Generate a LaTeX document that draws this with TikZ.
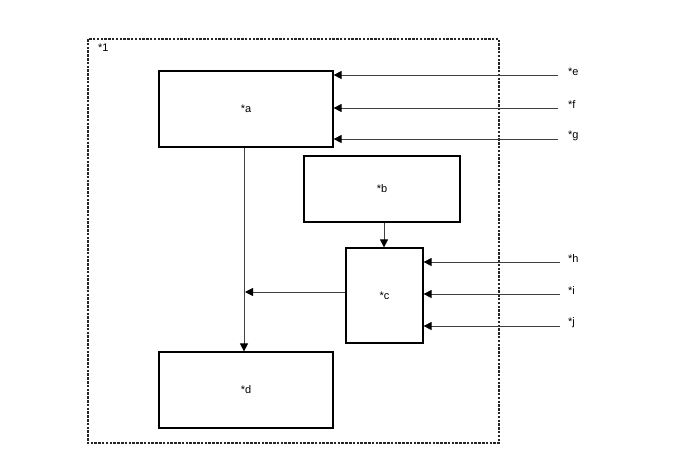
\documentclass[tikz,border=0pt]{standalone}
\usepackage{fontspec}
\setmainfont{Liberation Sans}
\usetikzlibrary{arrows.meta}
\begin{document}
\begin{tikzpicture}[x=1pt,y=-1pt,
  blk/.style={draw=black,line width=1.2pt,rectangle,inner sep=0pt,font=\fontsize{11}{13}\selectfont},
  arr/.style={draw=black!75,line width=0.8pt,-{Triangle[length=8pt,width=8pt,black]}},
  lbl/.style={font=\fontsize{11}{13}\selectfont,anchor=west,inner sep=0pt},
  frame/.style={draw=black!85,line width=1.1pt,dash pattern=on 2.5pt off 1.3pt}]
\useasboundingbox (0,0) rectangle (688,463);
\draw[frame] (88,39) rectangle (499,443);
\node[lbl] (n1) at (98,48) {*1};
\node[blk,minimum width=174pt,minimum height=76pt] (a) at (246,109) {*a};
\node[blk,minimum width=156pt,minimum height=66pt] (b) at (382,189) {*b};
\node[blk,minimum width=77pt,minimum height=95pt] (c) at (384.5,295.5) {*c};
\node[blk,minimum width=174pt,minimum height=76pt] (d) at (246,390) {*d};
% a to d
\draw[arr] (a.south -| 244,0) -- (d.north -| 244,0);
% b to c
\draw[arr] (b.south -| 384,0) -- (c.north -| 384,0);
% c to line
\coordinate (m) at (245,292);
\draw[arr] (c.west |- m) -- (m);
% right inputs
\foreach \n/\y in {e/75,f/108,g/139}{
  \coordinate (\n0) at (558,\y);
  \node[lbl] (\n) at (568,\y-3) {*\n};
  \draw[arr] (\n0) -- (\n0 -| a.east);
}
\foreach \n/\y in {h/262,i/294,j/326}{
  \coordinate (\n0) at (560,\y);
  \node[lbl] (\n) at (568,\y-3) {*\n};
  \draw[arr] (\n0) -- (\n0 -| c.east);
}
\end{tikzpicture}
\end{document}
